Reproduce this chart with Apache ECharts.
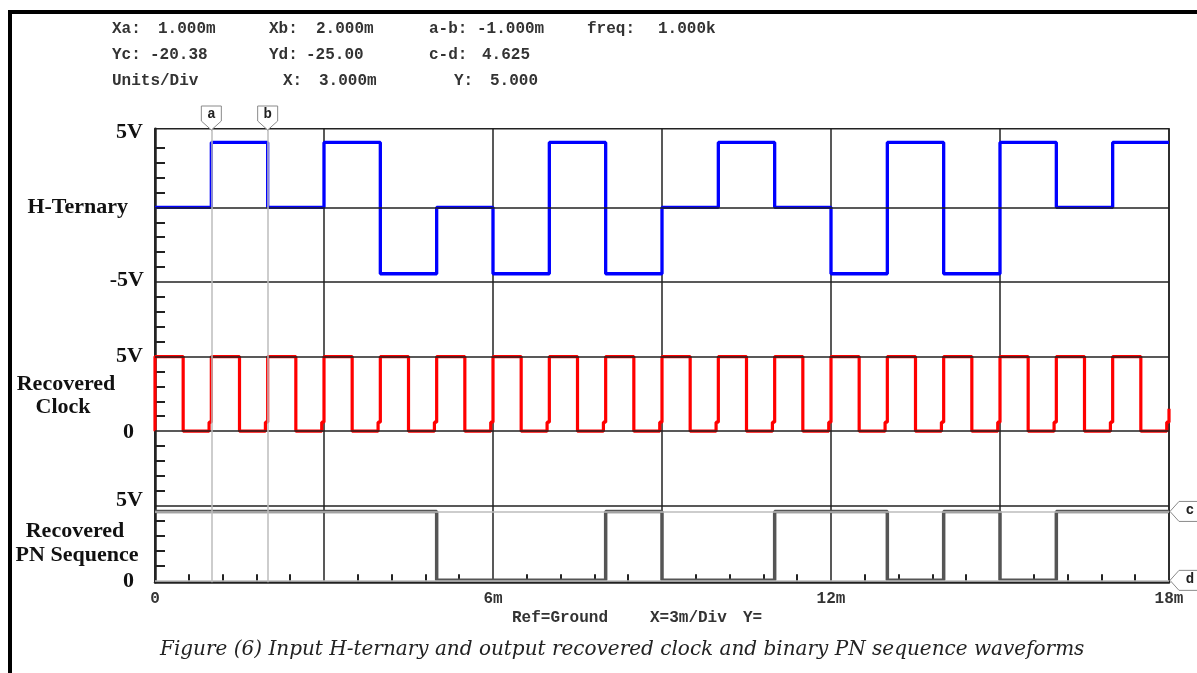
<!DOCTYPE html>
<html><head><meta charset="utf-8">
<script src="https://cdn.jsdelivr.net/npm/echarts@6/dist/echarts.min.js"></script>
<style>html,body{margin:0;padding:0;background:#fff}#c{width:1197px;height:673px}</style>
</head><body><div id="c"></div>
<script>
// ---- data ----
// time axis (ms), 3 ms per division
const xMin = 0, xMax = 18, xDiv = 3;
const xTickLabels = ['0', '6m', '12m', '18m'];
// H-ternary level for each 1 ms symbol (V)
const hTernary = [0, 4.35, 0, 4.35, -4.45, 0, -4.45, 4.35, -4.45, 0, 4.35, 0, -4.45, 4.35, -4.45, 4.35, 0, 4.35];
// recovered clock level for each 0.5 ms half period (V)
const clockLevels = [5,0, 5,0, 5,0, 5,0, 5,0, 5,0, 5,0, 5,0, 5,0, 5,0, 5,0, 5,0, 5,0, 5,0, 5,0, 5,0, 5,0, 5,0];
const clockHookLevel = 0.6;    // small step just before each rising edge (V)
const clockHookLead = 0.04;    // ms before the edge
const clockEndLevel = 1.5;     // partial rise at 18 ms
// recovered PN sequence bit for each 1 ms
const pnBits = [1,1,1,1,1, 0,0,0, 1, 0,0, 1,1, 0, 1, 0, 1,1];
const pnHigh = 4.62, pnLow = 0;
// channel offsets on the common Y scale (5 V/div)
const chOffset = { h: 0, clk: -15, pn: -25 };
// cursors
const cursorXa = 1, cursorXb = 2, cursorYc = -20.38, cursorYd = -25;
// horizontal division lines and y range
const yGridValues = [0, -5, -10, -15, -20];
const yMin = -25.13, yMax = 5.27;

// ---- build polylines ----
function stepPoints(levels, dt, off) {
  const p = [];
  levels.forEach((L, i) => { p.push([i * dt, L + off], [(i + 1) * dt, L + off]); });
  return p;
}
const hPts = stepPoints(hTernary, 1, chOffset.h);
const pnPts = stepPoints(pnBits.map(b => b ? pnHigh : pnLow), 1, chOffset.pn);
const clkPts = [[0, chOffset.clk + clockLevels[1]]];
clockLevels.forEach((L, i) => {
  const t0 = i * 0.5, t1 = t0 + 0.5, off = chOffset.clk;
  clkPts.push([t0, L + off]);
  const next = clockLevels[i + 1];
  if (L < clockLevels[0] && (next === undefined || next > L)) {
    clkPts.push([t1 - clockHookLead, L + off], [t1 - clockHookLead, clockHookLevel + off], [t1, clockHookLevel + off]);
  } else {
    clkPts.push([t1, L + off]);
  }
});
clkPts.push([xMax, chOffset.clk + clockEndLevel]);

const yMinor = [];
for (let v = Math.ceil(yMin); v <= Math.floor(yMax); v++) if (v % 5 !== 0) yMinor.push(v);

const chart = echarts.init(document.getElementById('c'), null, { renderer: 'canvas' });
const INK = '#222';
const mono = 'Liberation Mono';
chart.setOption({
  animation: false,
  backgroundColor: '#fff',
  grid: { left: 155, right: 28, top: 128.7, bottom: 90.7, show: true, borderColor: INK, borderWidth: 1.5, backgroundColor: 'transparent' },
  xAxis: {
    type: 'value', min: xMin, max: xMax, interval: xDiv,
    axisLine: { show: true, onZero: false, lineStyle: { color: INK, width: 2.5 } },
    axisTick: { show: false, inside: true },
    minorTick: { show: true, splitNumber: 5, length: 8, lineStyle: { color: INK, width: 2 } },
    splitLine: { show: true, lineStyle: { color: INK, width: 1.5 } },
    axisLabel: {
      margin: 9, color: '#333', fontFamily: mono, fontWeight: 'bold', fontSize: 16,
      formatter: v => (v % 6 === 0 ? xTickLabels[v / 6] : '')
    }
  },
  yAxis: {
    type: 'value', min: yMin, max: yMax,
    axisLine: { show: true, onZero: false, lineStyle: { color: INK, width: 2.5 } },
    axisTick: { show: true, inside: true, length: 10, customValues: yMinor, lineStyle: { color: INK, width: 2 } },
    splitLine: { show: false },
    axisLabel: { show: false }
  },
  series: [
    { type: 'line', name: 'grid', data: [[xMin, yGridValues[0]]], showSymbol: false, lineStyle: { opacity: 0 }, silent: true, z: 1,
      markLine: { silent: true, symbol: 'none', label: { show: false }, animation: false,
        lineStyle: { color: INK, width: 1.5, type: 'solid' },
        data: yGridValues.map(v => ({ yAxis: v })) } },
    { type: 'line', name: 'cursors', data: [[xMin, yGridValues[0]]], showSymbol: false, lineStyle: { opacity: 0 }, silent: true, z: 2,
      markLine: { silent: true, symbol: 'none', label: { show: false }, animation: false,
        lineStyle: { color: '#bdbdbd', width: 1.5, type: 'solid' },
        data: [{ xAxis: cursorXa }, { xAxis: cursorXb }, { yAxis: cursorYc }, { yAxis: cursorYd }] } },
    { type: 'line', name: 'H-Ternary', data: hPts, showSymbol: false, z: 4, lineStyle: { color: '#0000ff', width: 3.3 } },
    { type: 'line', name: 'Recovered Clock', data: clkPts, showSymbol: false, z: 4, lineStyle: { color: '#ff0000', width: 3.2 } },
    { type: 'line', name: 'Recovered PN Sequence', data: pnPts, showSymbol: false, z: 4, lineStyle: { color: '#555555', width: 3.5 } }
  ]
});

// ---- annotation texts and cursor markers ----
const px = (x, y) => chart.convertToPixel({ gridIndex: 0 }, [x, y]);
const serifB = 'bold 22px "Liberation Serif"';
const g = [];
function txt(s, x, y, font, align, fill) {
  g.push({ type: 'text', x, y, z: 10, style: { text: s, font, textAlign: align || 'left', textVerticalAlign: 'middle', fill: fill || '#111' } });
}
// outer frame
g.push({ type: 'rect', shape: { x: 10, y: 12, width: 1400, height: 900 }, style: { fill: 'none', stroke: '#000', lineWidth: 4 }, z: 0 });
// readouts
const monoF = 'bold 16px "Liberation Mono"';
[
  ['Xa:', 112, 29], ['1.000m', 158, 29], ['Xb:', 269, 29], ['2.000m', 316, 29], ['a-b:', 429, 29], ['-1.000m', 477, 29], ['freq:', 587, 29], ['1.000k', 658, 29],
  ['Yc:', 112, 55], ['-20.38', 150, 55], ['Yd:', 269, 55], ['-25.00', 306, 55], ['c-d:', 429, 55], ['4.625', 482, 55],
  ['Units/Div', 112, 81], ['X:', 283, 81], ['3.000m', 319, 81], ['Y:', 454, 81], ['5.000', 490, 81],
  ['Ref=Ground', 512, 618], ['X=3m/Div', 650, 618], ['Y=', 743, 618]
].forEach(t => txt(t[0], t[1], t[2], monoF, 'left', '#333'));
// channel labels
const yTop = px(0, yMax)[1], y0 = px(0, 0)[1], ym5 = px(0, -5)[1], ym10 = px(0, -10)[1], ym15 = px(0, -15)[1], ym20 = px(0, -20)[1], yBot = px(0, yMin)[1];
txt('5V', 143, yTop + 4, serifB, 'right');
txt('H-Ternary', 128, y0, serifB, 'right');
txt('-5V', 144, ym5 - 2, serifB, 'right');
txt('5V', 143, ym10, serifB, 'right');
txt('Recovered', 66, ym10 + 28, serifB, 'center');
txt('Clock', 63, ym10 + 51, serifB, 'center');
txt('0', 134, ym15 + 1, serifB, 'right');
txt('5V', 143, ym20 - 5, serifB, 'right');
txt('Recovered', 75, ym20 + 26, serifB, 'center');
txt('PN Sequence', 77, ym20 + 50, serifB, 'center');
txt('0', 134, yBot - 1, serifB, 'right');
// caption
txt('Figure (6) Input H-ternary and output recovered clock and binary PN sequence waveforms', 160, 650, 'italic 20px "DejaVu Serif"', 'left', '#222');
// cursor markers a, b (top) and c, d (right)
[[cursorXa, 'a'], [cursorXb, 'b']].forEach(([v, s]) => {
  const x = px(v, 0)[0];
  g.push({ type: 'polygon', z: 9, shape: { points: [[x - 10, 106], [x + 10, 106], [x + 10, 121], [x, 130], [x - 10, 121]] }, style: { fill: '#fff', stroke: '#8a8a8a', lineWidth: 1 } });
  txt(s, x, 114, 'bold 14px "Liberation Mono"', 'center', '#222');
});
[[cursorYc, 'c'], [cursorYd, 'd']].forEach(([v, s]) => {
  const p = px(xMax, v);
  g.push({ type: 'polygon', z: 9, shape: { points: [[p[0] + 1, p[1]], [p[0] + 10, p[1] - 10], [1210, p[1] - 10], [1210, p[1] + 10], [p[0] + 10, p[1] + 10]] }, style: { fill: '#fff', stroke: '#8a8a8a', lineWidth: 1 } });
  txt(s, 1190, p[1] - 1, 'bold 14px "Liberation Mono"', 'center', '#222');
});
chart.setOption({ graphic: g });
</script></body></html>
